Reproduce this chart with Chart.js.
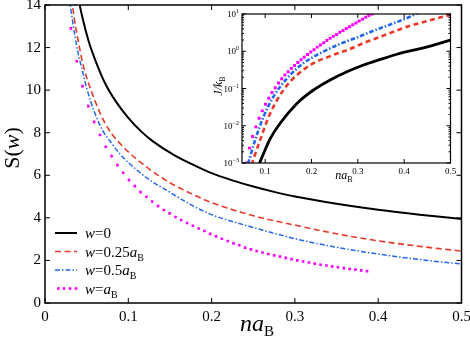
<!DOCTYPE html>
<html>
<head>
<meta charset="utf-8">
<script src="https://cdn.jsdelivr.net/npm/chart.js@4.4.1/dist/chart.umd.min.js"></script>
<style>
  html, body { margin: 0; padding: 0; background: #fff; }
  #wrap { position: relative; width: 470px; height: 341px; }
  #main { position: absolute; left: 0; top: 0; }
  #inset { position: absolute; left: 200px; top: 0; }
</style>
</head>
<body>
<div id="wrap">
  <canvas id="main" width="470" height="341"></canvas>
  <canvas id="inset" width="270" height="192"></canvas>
</div>
<script>
// main panel: S(w) against na_B
const xBlack = [0.039, 0.045, 0.0524, 0.06, 0.0724, 0.085, 0.1, 0.116, 0.13, 0.155, 0.183, 0.2, 0.225, 0.25, 0.275, 0.3, 0.35, 0.4, 0.45, 0.5];
const sBlack = [14.5, 13.4, 12.3, 11.45, 10.3, 9.47, 8.7, 8.04, 7.58, 6.95, 6.4, 6.1, 5.76, 5.47, 5.22, 5.0, 4.66, 4.38, 4.15, 3.95];

const xRed = [0.032, 0.035, 0.04, 0.045, 0.05, 0.06, 0.07, 0.08, 0.09, 0.1, 0.125, 0.15, 0.175, 0.2, 0.25, 0.3, 0.35, 0.4, 0.45, 0.5];
const sRed = [14.3, 13.4, 12.3, 11.3, 10.6, 9.5, 8.6, 7.95, 7.5, 7.1, 6.3, 5.65, 5.15, 4.72, 4.1, 3.66, 3.25, 2.92, 2.66, 2.44];

const xBlue = [0.029, 0.0384, 0.045, 0.05, 0.06, 0.07, 0.08, 0.09, 0.1, 0.125, 0.15, 0.175, 0.2, 0.225, 0.25, 0.3, 0.35, 0.4, 0.45, 0.5];
const sBlue = [14.3, 12.0, 10.9, 10.1, 8.9, 8.05, 7.5, 7.0, 6.6, 5.8, 5.2, 4.62, 4.15, 3.83, 3.55, 3.02, 2.62, 2.3, 2.04, 1.83];

const xDots = [0.0311, 0.0381, 0.045, 0.052, 0.059, 0.066, 0.0729, 0.0799, 0.0869, 0.0938, 0.1008, 0.1078, 0.1147, 0.1217, 0.1287, 0.1357,
  0.1426, 0.1496, 0.1566, 0.1635, 0.1705, 0.1775, 0.1844, 0.1914, 0.1984, 0.2054, 0.2123, 0.2193, 0.2263, 0.2332, 0.2402, 0.2472,
  0.2541, 0.2611, 0.2681, 0.2751, 0.282, 0.289, 0.296, 0.3029, 0.3099, 0.3169, 0.3238, 0.3308, 0.3378, 0.3448, 0.3517, 0.3587,
  0.3657, 0.3726, 0.3796, 0.3866];
const sDots = [12.9, 11.36, 10.19, 9.25, 8.51, 7.89, 7.34, 6.9, 6.48, 6.12, 5.77, 5.49, 5.21, 4.99, 4.77, 4.55,
  4.37, 4.21, 4.04, 3.9, 3.76, 3.63, 3.5, 3.38, 3.25, 3.13, 3.02, 2.91, 2.8, 2.71, 2.6, 2.52,
  2.44, 2.37, 2.3, 2.24, 2.18, 2.12, 2.06, 2.0, 1.95, 1.9, 1.85, 1.8, 1.76, 1.72, 1.68, 1.64,
  1.6, 1.57, 1.53, 1.5];

// inset: J/k_B (log) against na_B
const xJBlack = [0.087, 0.0964, 0.1108, 0.1324, 0.1685, 0.2043, 0.2404, 0.2765, 0.3123, 0.3484, 0.3845, 0.4203, 0.4564, 0.5];
const jBlack = [0.00093, 0.00178, 0.00447, 0.0117, 0.0398, 0.0912, 0.17, 0.282, 0.427, 0.603, 0.832, 1.07, 1.38, 2.0];

const xJRed = [0.0705, 0.0892, 0.1108, 0.1395, 0.1685, 0.2043, 0.2404, 0.262, 0.2765, 0.3123, 0.334, 0.3484, 0.3845, 0.406, 0.45, 0.5];
const jRed = [0.000891, 0.00417, 0.0214, 0.0912, 0.229, 0.479, 0.741, 0.933, 1.07, 1.66, 2.09, 2.45, 3.63, 4.57, 6.46, 9.55];

const xJBlue = [0.063, 0.0676, 0.0784, 0.0964, 0.1179, 0.1469, 0.1827, 0.2259, 0.262, 0.3, 0.334, 0.375, 0.417, 0.43];
const jBlue = [0.000955, 0.00148, 0.00417, 0.0174, 0.0603, 0.186, 0.479, 0.977, 1.58, 2.4, 3.55, 5.5, 8.91, 10.7];

const xJDots = xDots.slice(4, 44);
const jDots = [0.001, 0.00251, 0.00513, 0.00933, 0.0158, 0.0251, 0.038, 0.055, 0.0776, 0.105,
  0.141, 0.182, 0.229, 0.282, 0.347, 0.417, 0.501, 0.589, 0.692, 0.813,
  0.955, 1.10, 1.29, 1.48, 1.70, 1.95, 2.24, 2.51, 2.82, 3.24,
  3.63, 4.07, 4.57, 5.13, 5.75, 6.46, 7.24, 8.13, 9.12, 10.0];

const xTicks = [0, 0.1, 0.2, 0.3, 0.4, 0.5];
const yTicks = [0, 2, 4, 6, 8, 10, 12, 14];
const insetXTicks = [0.1, 0.2, 0.3, 0.4, 0.5];
const insetYTicks = [0.001, 0.01, 0.1, 1, 10];
const insetYExp = ['\u22123', '\u22122', '\u22121', '0', '1'];

const legendNames = [
  [['w', 'i'], ['=0', 'n']],
  [['w', 'i'], ['=0.25', 'n'], ['a', 'i'], ['B', 's']],
  [['w', 'i'], ['=0.5', 'n'], ['a', 'i'], ['B', 's']],
  [['w', 'i'], ['=', 'n'], ['a', 'i'], ['B', 's']]
];

const RED = '#e8392b';
const BLUE = '#2266ee';
const MAG = '#ff00ff';
const SERIF = '"Liberation Serif", "Times New Roman", serif';

const pts = (xs, ys) => xs.map((x, i) => ({ x: x, y: ys[i] }));

function drawRich(ctx, parts, x, y, center) {
  let w = 0;
  parts.forEach(p => { ctx.font = p[1]; w += ctx.measureText(p[0]).width; });
  let cx = center ? x - w / 2 : x;
  parts.forEach(p => {
    ctx.font = p[1];
    ctx.fillText(p[0], cx, y + (p[2] || 0));
    cx += ctx.measureText(p[0]).width;
  });
}

function drawFrame(chart, o) {
  const ctx = chart.ctx, a = chart.chartArea;
  const sx = chart.scales.x, sy = chart.scales.y;
  ctx.save();
  ctx.strokeStyle = '#000';
  ctx.lineWidth = o.frame;
  ctx.setLineDash([]);
  ctx.strokeRect(a.left, a.top, a.right - a.left, a.bottom - a.top);
  ctx.lineWidth = 1;
  ctx.beginPath();
  o.xt.forEach(v => {
    const px = sx.getPixelForValue(v);
    ctx.moveTo(px, a.bottom); ctx.lineTo(px, a.bottom - o.len);
    ctx.moveTo(px, a.top); ctx.lineTo(px, a.top + o.len);
  });
  o.yt.forEach(v => {
    const py = sy.getPixelForValue(v);
    ctx.moveTo(a.left, py); ctx.lineTo(a.left + o.len, py);
    ctx.moveTo(a.right, py); ctx.lineTo(a.right - o.len, py);
  });
  (o.ym || []).forEach(v => {
    const py = sy.getPixelForValue(v);
    ctx.moveTo(a.left, py); ctx.lineTo(a.left + o.len / 2, py);
    ctx.moveTo(a.right, py); ctx.lineTo(a.right - o.len / 2, py);
  });
  ctx.stroke();
  ctx.restore();
}

const mainDecor = {
  id: 'mainDecor',
  afterDatasetsDraw(chart) {
    const ctx = chart.ctx;
    drawFrame(chart, { frame: 1.5, len: 5, xt: xTicks, yt: yTicks });
    ctx.save();
    ctx.fillStyle = '#000';
    ctx.textBaseline = 'alphabetic';
    // x title
    drawRich(ctx, [['na', 'italic 24px ' + SERIF], ['B', '15px ' + SERIF, 5]], 257, 331, true);
    // y title
    ctx.translate(19, 148);
    ctx.rotate(-Math.PI / 2);
    drawRich(ctx, [['S', '22px ' + SERIF], ['(', '22px ' + SERIF], ['w', 'italic 22px ' + SERIF], [')', '22px ' + SERIF]], 0, 0, true);
    ctx.restore();

    // legend
    const rows = [233, 251.5, 270, 288.5];
    ctx.save();
    rows.forEach((y, i) => {
      ctx.beginPath();
      if (i === 0) { ctx.strokeStyle = '#000'; ctx.lineWidth = 2; ctx.setLineDash([]); }
      if (i === 1) { ctx.strokeStyle = RED; ctx.lineWidth = 1.6; ctx.setLineDash([6, 3.5]); }
      if (i === 2) { ctx.strokeStyle = BLUE; ctx.lineWidth = 1.5; ctx.setLineDash([5, 2, 1.5, 2]); }
      if (i < 3) {
        ctx.moveTo(55, y); ctx.lineTo(77, y); ctx.stroke();
      } else {
        ctx.fillStyle = MAG;
        [58.3, 64, 70, 76].forEach(px => ctx.fillRect(px - 1.3, y - 1.3, 2.6, 2.6));
      }
      ctx.fillStyle = '#000';
      const parts = legendNames[i].map(p => {
        if (p[1] === 'i') return [p[0], 'italic 15px ' + SERIF];
        if (p[1] === 's') return [p[0], '10px ' + SERIF, 4];
        return [p[0], '15px ' + SERIF];
      });
      drawRich(ctx, parts, 85, y + 5, false);
    });
    ctx.restore();
  }
};

const minorLog = [];
insetYTicks.slice(0, 4).forEach(d => { for (let m = 2; m <= 9; m++) minorLog.push(d * m); });

const insetDecor = {
  id: 'insetDecor',
  afterDatasetsDraw(chart) {
    const ctx = chart.ctx, a = chart.chartArea, sy = chart.scales.y;
    drawFrame(chart, { frame: 1.2, len: 4, xt: insetXTicks, yt: insetYTicks, ym: minorLog });
    ctx.save();
    ctx.fillStyle = '#000';
    insetYTicks.forEach((v, i) => {
      const py = sy.getPixelForValue(v);
      ctx.font = '6px ' + SERIF;
      const ew = ctx.measureText(insetYExp[i]).width;
      ctx.font = '9px ' + SERIF;
      const bw = ctx.measureText('10').width;
      const x0 = a.left - 3 - ew - bw;
      ctx.fillText('10', x0, py + 3);
      ctx.font = '6px ' + SERIF;
      ctx.fillText(insetYExp[i], x0 + bw, py - 1);
    });
    drawRich(ctx, [['na', 'italic 12px ' + SERIF], ['B', '8px ' + SERIF, 3]], 144, 179, true);
    ctx.translate(22, 86);
    ctx.rotate(-Math.PI / 2);
    drawRich(ctx, [['J/k', 'italic 12px ' + SERIF], ['B', '8px ' + SERIF, 3]], 0, 0, true);
    ctx.restore();
  }
};

const lineDs = (label, data, color, width, dash) => ({
  label: label, data: data, showLine: true, borderColor: color, borderWidth: width,
  borderDash: dash, pointRadius: 0, cubicInterpolationMode: 'monotone', fill: false
});
const dotDs = (label, data, r) => ({
  label: label, data: data, showLine: false, pointStyle: 'rect', pointRadius: r,
  pointBackgroundColor: MAG, pointBorderWidth: 0, borderColor: MAG
});

new Chart(document.getElementById('main'), {
  type: 'scatter',
  data: {
    datasets: [
      lineDs('w=0', pts(xBlack, sBlack), '#000', 2, []),
      lineDs('w=0.25aB', pts(xRed, sRed), RED, 1.6, [6, 3.5]),
      lineDs('w=0.5aB', pts(xBlue, sBlue), BLUE, 1.5, [5, 2, 1.5, 2]),
      dotDs('w=aB', pts(xDots, sDots), 1.85)
    ]
  },
  options: {
    responsive: false,
    animation: false,
    devicePixelRatio: 1,
    layout: { padding: { top: 5, right: 8.5, left: 0, bottom: 0 } },
    plugins: { legend: { display: false }, tooltip: { enabled: false } },
    scales: {
      x: {
        type: 'linear', min: 0, max: 0.5,
        afterBuildTicks: s => { s.ticks = xTicks.map(v => ({ value: v })); },
        afterFit: s => { s.height = 38; s.paddingLeft = 0; s.paddingRight = 0; },
        grid: { display: false, drawTicks: false },
        border: { display: false },
        ticks: {
          padding: 5, color: '#000', maxRotation: 0,
          font: { family: SERIF, size: 15 },
          callback: v => (v === 0 ? '0' : String(+v.toFixed(1)))
        }
      },
      y: {
        type: 'linear', min: 0, max: 14,
        afterBuildTicks: s => { s.ticks = yTicks.map(v => ({ value: v })); },
        afterFit: s => { s.width = 45; s.paddingTop = 0; s.paddingBottom = 0; },
        grid: { display: false, drawTicks: false },
        border: { display: false },
        ticks: { padding: 4, color: '#000', font: { family: SERIF, size: 15 } }
      }
    }
  },
  plugins: [mainDecor]
});

new Chart(document.getElementById('inset'), {
  type: 'scatter',
  data: {
    datasets: [
      lineDs('w=0', pts(xJBlack, jBlack), '#000', 2.8, []),
      lineDs('w=0.25aB', pts(xJRed, jRed), RED, 2.6, [5, 3.5]),
      lineDs('w=0.5aB', pts(xJBlue, jBlue), BLUE, 2.6, [4.5, 2, 1.5, 2]),
      dotDs('w=aB', pts(xJDots, jDots), 2.1)
    ]
  },
  options: {
    responsive: false,
    animation: false,
    devicePixelRatio: 1,
    layout: { padding: { top: 14, right: 19.5, left: 0, bottom: 0 } },
    plugins: { legend: { display: false }, tooltip: { enabled: false } },
    scales: {
      x: {
        type: 'linear', min: 0.05, max: 0.5,
        afterBuildTicks: s => { s.ticks = insetXTicks.map(v => ({ value: v })); },
        afterFit: s => { s.height = 29; s.paddingLeft = 0; s.paddingRight = 0; },
        grid: { display: false, drawTicks: false },
        border: { display: false },
        ticks: {
          padding: 3, color: '#000', maxRotation: 0,
          font: { family: SERIF, size: 9 },
          callback: v => String(+v.toFixed(1))
        }
      },
      y: {
        type: 'logarithmic', min: 0.001, max: 10,
        afterBuildTicks: s => { s.ticks = insetYTicks.map(v => ({ value: v })); },
        afterFit: s => { s.width = 42; s.paddingTop = 0; s.paddingBottom = 0; },
        grid: { display: false, drawTicks: false },
        border: { display: false },
        ticks: { display: false }
      }
    }
  },
  plugins: [insetDecor]
});
</script>
</body>
</html>
